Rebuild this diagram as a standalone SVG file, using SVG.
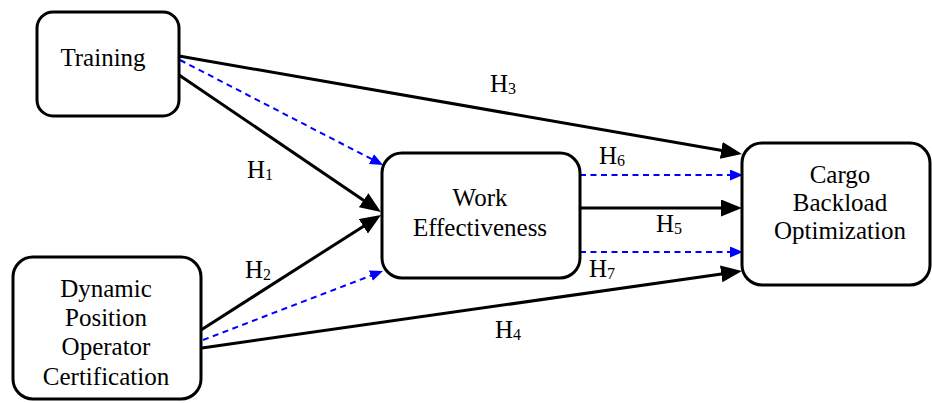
<svg xmlns="http://www.w3.org/2000/svg" width="932" height="403" viewBox="0 0 932 403">
<style>
.box{fill:#fff;stroke:#000;stroke-width:3}
.lbl{font-family:'Liberation Serif','Times New Roman',Tinos,'DejaVu Serif',serif;font-size:25px;fill:#000;text-anchor:middle}
.h{font-family:'Liberation Serif','Times New Roman',Tinos,'DejaVu Serif',serif;font-size:25px;fill:#000}
.sub{font-size:16px}
.solid{stroke:#000;stroke-width:3;fill:none;marker-end:url(#ab)}
.dash{stroke:#0000ff;stroke-width:2;fill:none;stroke-dasharray:6,4.5;marker-end:url(#abl)}
</style>
<defs>
<marker id="ab" markerUnits="userSpaceOnUse" markerWidth="22" markerHeight="18" refX="11" refY="8.5" orient="auto" viewBox="0 0 22 18">
<path d="M0,0 L21,8.5 L0,17 z" fill="#000"/>
</marker>
<marker id="abl" markerUnits="userSpaceOnUse" markerWidth="14" markerHeight="12" refX="8" refY="5.5" orient="auto" viewBox="0 0 14 12">
<path d="M0,0 L13,5.5 L0,11 z" fill="#0000ff"/>
</marker>
</defs>
<rect width="932" height="403" fill="#fff"/>
<g id="connectors">
<line class="solid" x1="179" y1="56" x2="732.1" y2="152.3"/>
<line class="solid" x1="179" y1="75" x2="372.7" y2="206.4"/>
<line class="solid" x1="201" y1="330" x2="372.6" y2="220.4"/>
<line class="solid" x1="202" y1="348" x2="732.1" y2="272.4"/>
<line class="solid" x1="580" y1="208" x2="732" y2="208"/>
<line class="dash" x1="180" y1="60" x2="378.6" y2="162.7"/>
<line class="dash" x1="203" y1="340" x2="378.3" y2="272.8"/>
<line class="dash" x1="580" y1="175" x2="738" y2="175"/>
<line class="dash" x1="580" y1="252" x2="738" y2="252"/>
<text class="h" x="247" y="178">H<tspan class="sub" dy="2">1</tspan></text>
<text class="h" x="245" y="278">H<tspan class="sub" dy="2">2</tspan></text>
<text class="h" x="490" y="92">H<tspan class="sub" dy="2">3</tspan></text>
<text class="h" x="495" y="338">H<tspan class="sub" dy="2">4</tspan></text>
<text class="h" x="656" y="232">H<tspan class="sub" dy="2">5</tspan></text>
<text class="h" x="599" y="164">H<tspan class="sub" dy="2">6</tspan></text>
<text class="h" x="589" y="277">H<tspan class="sub" dy="2">7</tspan></text>
</g>
<g id="training">
<rect class="box" x="37" y="12" width="142" height="104" rx="16"/>
<text class="lbl" x="103" y="66">Training</text>
</g>
<g id="dpo">
<rect class="box" x="13" y="257" width="188" height="142" rx="20"/>
<text class="lbl" x="106" y="297">Dynamic</text>
<text class="lbl" x="106" y="326">Position</text>
<text class="lbl" x="106" y="355">Operator</text>
<text class="lbl" x="106" y="385">Certification</text>
</g>
<g id="work">
<rect class="box" x="382" y="153" width="198" height="125" rx="20"/>
<text class="lbl" x="480" y="206">Work</text>
<text class="lbl" x="480" y="236">Effectiveness</text>
</g>
<g id="cargo">
<rect class="box" x="742" y="143" width="188" height="142" rx="20"/>
<text class="lbl" x="840" y="183">Cargo</text>
<text class="lbl" x="840" y="211">Backload</text>
<text class="lbl" x="840" y="239">Optimization</text>
</g>
</svg>
